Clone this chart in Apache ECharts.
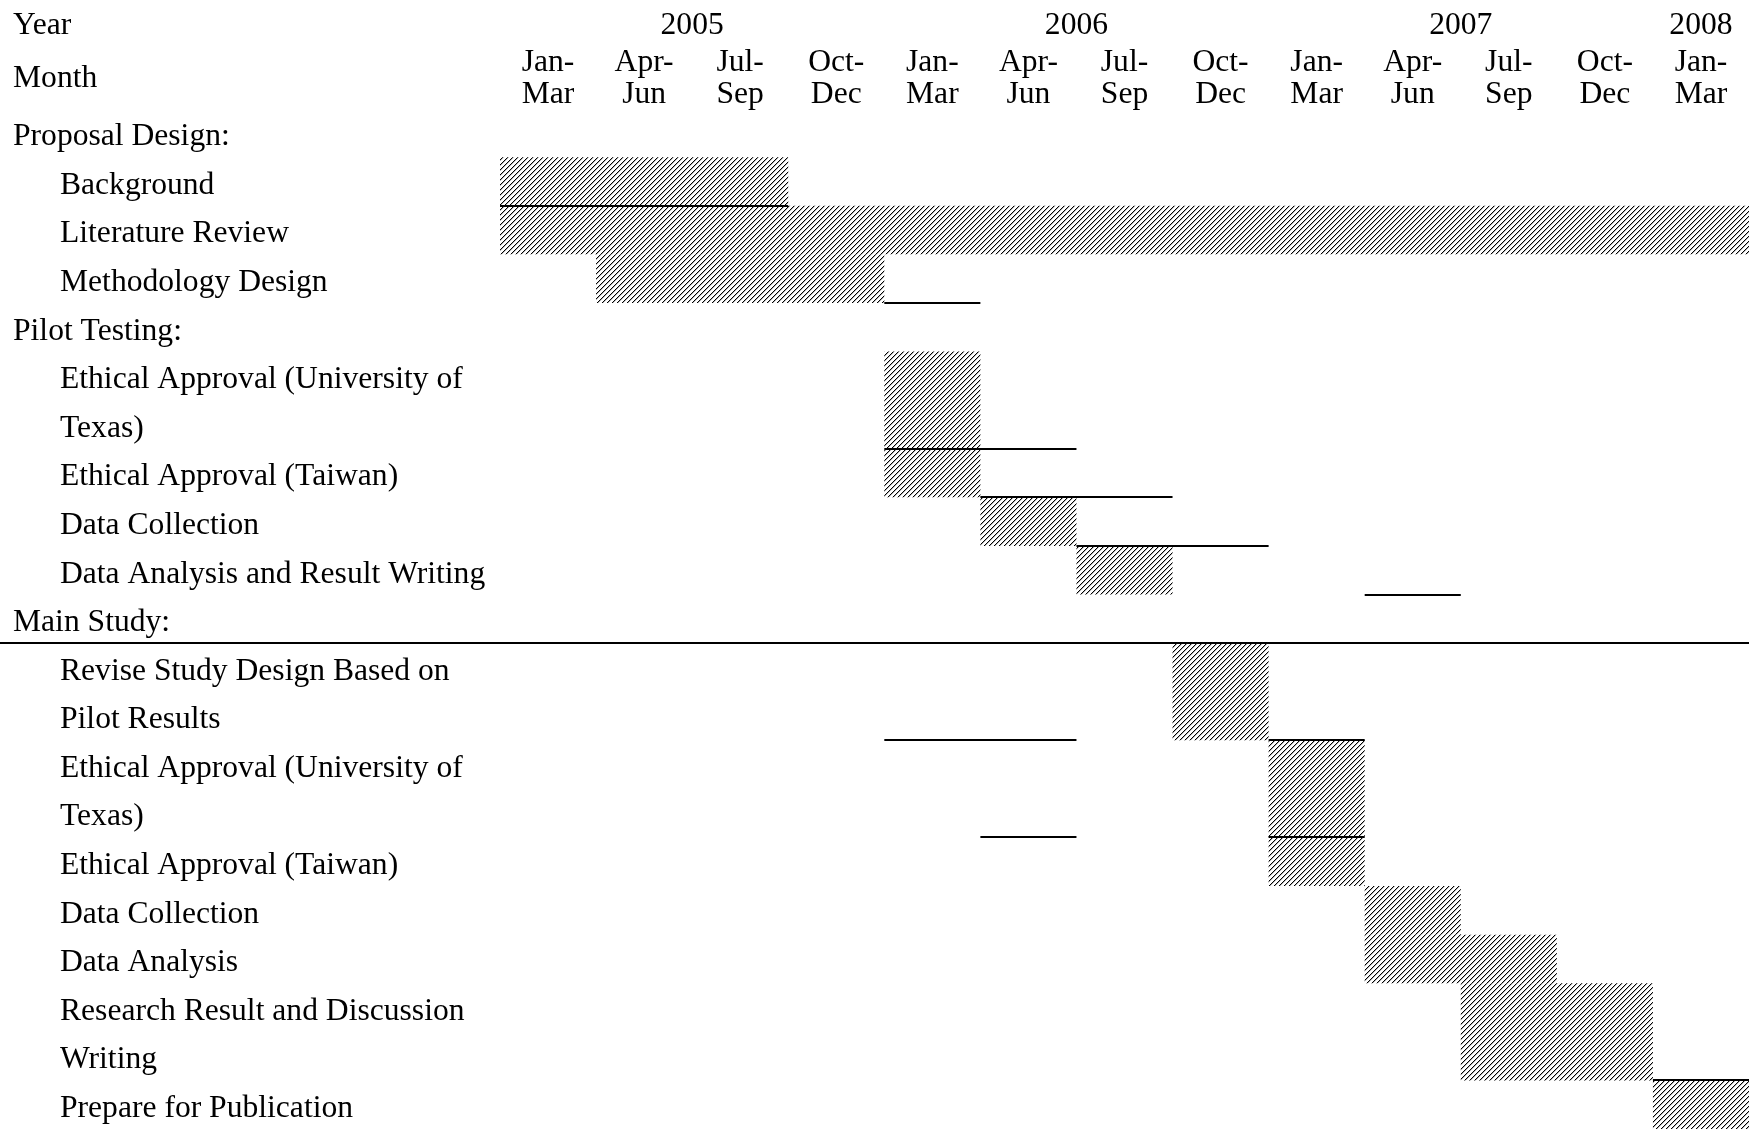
<!DOCTYPE html>
<html>
<head>
<meta charset="utf-8">
<script src="https://cdn.jsdelivr.net/npm/echarts@6/dist/echarts.min.js"></script>
<style>
  html, body { margin: 0; padding: 0; background: #fff; }
  #chart { width: 1760px; height: 1129px; }
</style>
</head>
<body>
<div id="chart"></div>
<script>
// ---------- data ----------
const quarterLabels = ['Jan-\nMar','Apr-\nJun','Jul-\nSep','Oct-\nDec',
                       'Jan-\nMar','Apr-\nJun','Jul-\nSep','Oct-\nDec',
                       'Jan-\nMar','Apr-\nJun','Jul-\nSep','Oct-\nDec',
                       'Jan-\nMar'];
const yearLabels = ['2005', '2006', '2007', '2008'];
const yearPositions = [2, 6, 10, 12.5];          // in quarters from Jan 2005
const headerTexts = ['Year', 'Month'];

const rowLabels = [
  'Proposal Design:',
  'Background',
  'Literature Review',
  'Methodology Design',
  'Pilot Testing:',
  'Ethical Approval (University of',
  'Texas)',
  'Ethical Approval (Taiwan)',
  'Data Collection',
  'Data Analysis and Result Writing',
  'Main Study:',
  'Revise Study Design Based on',
  'Pilot Results',
  'Ethical Approval (University of',
  'Texas)',
  'Ethical Approval (Taiwan)',
  'Data Collection',
  'Data Analysis',
  'Research Result and Discussion',
  'Writing',
  'Prepare for Publication'
];
const sectionRows = [0, 4, 10];

// task bars: start quarter, end quarter, first row, last row
const taskStart    = [0, 0, 1, 4, 4, 5, 6, 7, 8, 8, 9, 9, 10, 12];
const taskEnd      = [3, 13, 4, 5, 5, 6, 7, 8, 9, 9, 10, 11, 12, 13];
const taskRowFirst = [1, 2, 3, 5, 7, 8, 9, 11, 13, 15, 16, 17, 18, 20];
const taskRowLast  = [1, 2, 3, 6, 7, 8, 9, 12, 14, 15, 16, 17, 19, 20];

// stray table rules: start quarter, end quarter, row whose top edge they sit on
const ruleStart = [0, 4, 4, 5, 6, 9, -5.21, 4, 8, 5, 8, 12];
const ruleEnd   = [3, 5, 6, 7, 8, 10, 13, 6, 9, 6, 9, 13];
const ruleRow   = [2, 4, 7, 8, 9, 10, 11, 13, 13, 15, 15, 20];

// ---------- build ----------
const FONT = "'Liberation Serif', 'Times New Roman', serif";
const FS = 31.6;

function makeHatch() {
  const c = document.createElement('canvas');
  c.width = 5; c.height = 5;
  const ctx = c.getContext('2d');
  ctx.fillStyle = '#fff';
  ctx.fillRect(0, 0, 5, 5);
  for (let x = 0; x < 5; x++) {
    for (let y = 0; y < 5; y++) {
      const m = (x + y) % 5;
      if (m === 4) { ctx.fillStyle = '#000'; ctx.fillRect(x, y, 1, 1); }
      else if (m === 0) { ctx.fillStyle = '#b4b4b4'; ctx.fillRect(x, y, 1, 1); }
    }
  }
  return c;
}
const hatch = makeHatch();

const taskData = taskStart.map((s, i) => [s, taskEnd[i], taskRowFirst[i], taskRowLast[i]]);
const ruleData = ruleStart.map((s, i) => [s, ruleEnd[i], ruleRow[i]]);

const GRID_TOP = 108.6;
const BAND = 48.7;

const chart = echarts.init(document.getElementById('chart'), null, { renderer: 'canvas' });

const option = {
  backgroundColor: '#fff',
  animation: false,
  textStyle: { fontFamily: FONT },
  grid: { left: 500, right: 11, top: GRID_TOP, height: BAND * rowLabels.length, containLabel: false },
  xAxis: [
    { type: 'value', min: 0, max: 13, show: false },
    {
      type: 'category', data: quarterLabels, position: 'top', boundaryGap: true,
      axisLine: { show: false }, axisTick: { show: false }, splitLine: { show: false },
      axisLabel: {
        interval: 0, margin: GRID_TOP - 79, verticalAlign: 'middle',
        fontFamily: FONT, fontSize: FS, lineHeight: 32, color: '#000', align: 'center'
      }
    },
    {
      type: 'value', min: 0, max: 13, interval: 0.5, position: 'top',
      axisLine: { show: false }, axisTick: { show: false }, splitLine: { show: false },
      axisLabel: {
        margin: GRID_TOP - 26, verticalAlign: 'middle', fontFamily: FONT, fontSize: FS, color: '#000',
        formatter: v => { const k = yearPositions.indexOf(v); return k >= 0 ? yearLabels[k] : ''; }
      }
    }
  ],
  yAxis: {
    type: 'category', data: rowLabels, inverse: true,
    axisLine: { show: false }, axisTick: { show: false }, splitLine: { show: false },
    axisLabel: {
      interval: 0, align: 'left', margin: 487, verticalAlign: 'middle',
      formatter: (v, i) => sectionRows.indexOf(i) >= 0 ? '{h|' + v + '}' : '{s|' + v + '}',
      rich: {
        h: { fontFamily: FONT, fontSize: FS, color: '#000', padding: [8, 0, 0, 0] },
        s: { fontFamily: FONT, fontSize: FS, color: '#000', padding: [8, 0, 0, 47] }
      }
    }
  },
  graphic: headerTexts.map((t, i) => ({
    type: 'text', x: 13, y: i === 0 ? 26 : 79,
    style: { text: t, font: FS + 'px ' + FONT, fill: '#000', verticalAlign: 'middle', align: 'left' }
  })),
  series: [
    {
      type: 'custom', xAxisIndex: 0, yAxisIndex: 0, clip: false,
      encode: { x: [0, 1], y: [2, 3] },
      data: taskData,
      renderItem: (params, api) => {
        const p0 = api.coord([api.value(0), api.value(2)]);
        const p1 = api.coord([api.value(1), api.value(3)]);
        const h = api.size([0, 1])[1];
        return {
          type: 'rect',
          shape: { x: p0[0], y: p0[1] - h / 2, width: p1[0] - p0[0], height: p1[1] - p0[1] + h },
          style: { fill: { image: hatch, repeat: 'repeat' }, stroke: null }
        };
      }
    },
    {
      type: 'custom', xAxisIndex: 0, yAxisIndex: 0, clip: false,
      encode: { x: [0, 1], y: 2 },
      data: ruleData,
      renderItem: (params, api) => {
        const p0 = api.coord([api.value(0), api.value(2)]);
        const p1 = api.coord([api.value(1), api.value(2)]);
        const h = api.size([0, 1])[1];
        const y = Math.round(p0[1] - h / 2);
        return {
          type: 'line',
          shape: { x1: p0[0], y1: y, x2: p1[0], y2: y },
          style: { stroke: '#000', lineWidth: 2 }
        };
      }
    }
  ]
};
chart.setOption(option);
</script>
</body>
</html>
